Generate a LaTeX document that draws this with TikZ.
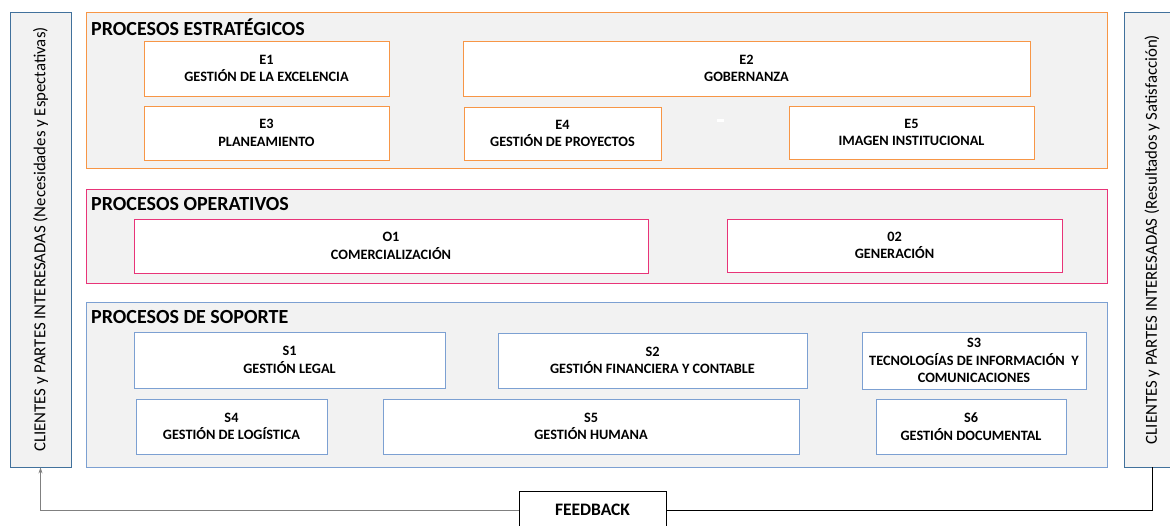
\documentclass[tikz,border=0pt]{standalone}
\usepackage{fontspec}
\setmainfont{Carlito}
\usetikzlibrary{arrows.meta}
\definecolor{estrat}{RGB}{247,150,70}
\definecolor{operat}{RGB}{232,52,120}
\definecolor{soporte}{RGB}{124,160,210}
\definecolor{cliente}{RGB}{65,113,156}
\definecolor{fondo}{RGB}{242,242,242}
\begin{document}
\begin{tikzpicture}[
    x=1pt, y=-1pt,
    group/.style={draw, fill=fondo, line width=0.9pt, inner sep=0pt},
    proc/.style={draw, fill=white, line width=0.9pt, align=center, inner sep=0pt, font=\bfseries\fontsize{14.3}{17.5}\selectfont},
    eproc/.style={proc, draw=estrat},
    oproc/.style={proc, draw=operat},
    sproc/.style={proc, draw=soporte},
    title/.style={anchor=west, inner sep=0pt, font=\bfseries\fontsize{20}{22}\selectfont},
    side/.style={draw=cliente, fill=fondo, line width=0.9pt, rotate=90, inner sep=0pt, font=\fontsize{16.8}{19}\selectfont},
    link/.style={line width=0.8pt}
  ]
  \clip (0,0) rectangle (1170,525);

  % clientes a ambos lados
  \node[side, minimum width=455pt, minimum height=61pt] (cl) at (40.5,239.5) {CLIENTES y PARTES INTERESADAS (Necesidades y Espectativas)};
  \node[side, minimum width=455pt, minimum height=56pt] (cr) at (1152,239.5) {CLIENTES y PARTES INTERESADAS (Resultados y Satisfacción)};

  % procesos estrategicos
  \node[group, draw=estrat, minimum width=1021pt, minimum height=156pt] (estr) at (596.5,90) {};
  \node[title] (testr) at (91,27) {PROCESOS ESTRATÉGICOS};
  \node[eproc, minimum width=245pt, minimum height=55pt] (e1) at (266.5,68.5) {E1\\GESTIÓN DE LA EXCELENCIA};
  \node[eproc, minimum width=567pt, minimum height=55pt] (e2) at (746.5,68.5) {E2\\GOBERNANZA};
  \node[eproc, minimum width=245pt, minimum height=54pt] (e3) at (266.5,133) {E3\\PLANEAMIENTO};
  \node[eproc, minimum width=197pt, minimum height=53pt] (e4) at (562.5,133.5) {E4\\GESTIÓN DE PROYECTOS};
  \node[eproc, minimum width=245pt, minimum height=53pt] (e5) at (911.5,132.5) {E5\\IMAGEN INSTITUCIONAL};
  \fill[white] (717,119) rectangle (724,122);

  % procesos operativos
  \node[group, draw=operat, minimum width=1021pt, minimum height=94pt] (oper) at (596.5,236) {};
  \node[title] (toper) at (91,204) {PROCESOS OPERATIVOS};
  \node[oproc, minimum width=514pt, minimum height=54pt] (o1) at (391,246) {O1\\COMERCIALIZACIÓN};
  \node[oproc, minimum width=335pt, minimum height=53pt] (o2) at (894.5,245.5) {02\\GENERACIÓN};

  % procesos de soporte
  \node[group, draw=soporte, minimum width=1021pt, minimum height=165pt] (sopo) at (596.5,384.5) {};
  \node[title] (tsopo) at (91,317) {PROCESOS DE SOPORTE};
  \node[sproc, minimum width=311pt, minimum height=56pt] (s1) at (289.5,360) {S1\\GESTIÓN LEGAL};
  \node[sproc, minimum width=309pt, minimum height=55pt] (s2) at (652.5,360.5) {S2\\GESTIÓN FINANCIERA Y CONTABLE};
  \node[sproc, minimum width=224pt, minimum height=57pt] (s3) at (974,360.5) {S3\\TECNOLOGÍAS DE INFORMACIÓN~ Y\\COMUNICACIONES};
  \node[sproc, minimum width=191pt, minimum height=55pt] (s4) at (231.5,426.5) {S4\\GESTIÓN DE LOGÍSTICA};
  \node[sproc, minimum width=416pt, minimum height=55pt] (s5) at (591,426.5) {S5\\GESTIÓN HUMANA};
  \node[sproc, minimum width=190pt, minimum height=55pt] (s6) at (971,426.5) {S6\\GESTIÓN DOCUMENTAL};

  % feedback
  \node[draw, fill=white, line width=0.9pt, minimum width=147pt, minimum height=38pt, inner sep=0pt, font=\bfseries\fontsize{17.5}{19}\selectfont] (fb) at (592.5,510) {FEEDBACK};
  \draw[link, gray, -{Stealth[length=6pt, width=4pt]}] (fb.west) -| (cl.west);
  \draw[link] (fb.east) -| (cr.west);

\end{tikzpicture}
\end{document}
